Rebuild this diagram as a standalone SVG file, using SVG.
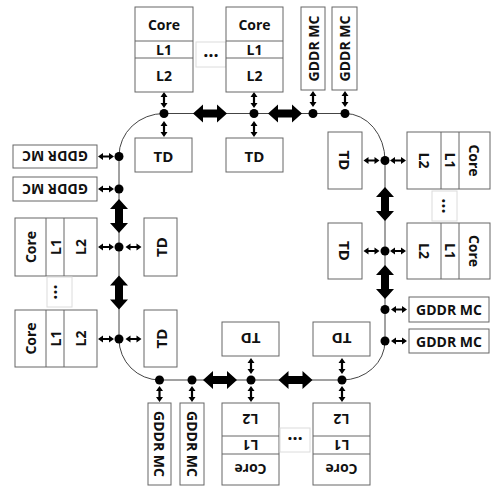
<svg xmlns="http://www.w3.org/2000/svg" xmlns:xlink="http://www.w3.org/1999/xlink" width="491" height="487" viewBox="0 0 491 487">
<style>
.b{fill:#fff;stroke:#666;stroke-width:1}
.e{fill:#fff;stroke:#dcdcdc;stroke-width:1}
.d{stroke:#666;stroke-width:1}
.t{font-family:"Open Sans","Liberation Sans",sans-serif;font-weight:bold;font-size:14px;fill:#111;text-anchor:middle;dominant-baseline:central}
.td{font-size:15px}
.x{font-family:"Open Sans","Liberation Sans",sans-serif;font-weight:bold;font-size:18px;fill:#111;text-anchor:middle}
.ring{fill:none;stroke:#444;stroke-width:1}
</style>
<defs>
<path id="sa" d="M-8,0 L-3,-3.5 L-3,-1.1 L3,-1.1 L3,-3.5 L8,0 L3,3.5 L3,1.1 L-3,1.1 L-3,3.5 Z" fill="#000"/>
<path id="fa" d="M-17,0 L-7,-9 L-7,-4 L7,-4 L7,-9 L17,0 L7,9 L7,4 L-7,4 L-7,9 Z" fill="#000"/>
</defs>
<rect width="491" height="487" fill="#fff"/>

<g id="connectors">
<path class="ring" d="M164,113.5 H345 A40,47 0 0 1 385,160.5 V341 A43,39 0 0 1 342,380 H160 A41,41 0 0 1 119,339 V156 A45,42.5 0 0 1 164,113.5 Z"/>
<g fill="#000">
<circle cx="164" cy="113.5" r="4.5"/><circle cx="254" cy="113.5" r="4.5"/><circle cx="313" cy="113.5" r="4.5"/><circle cx="345" cy="113.5" r="4.5"/>
<circle cx="385" cy="160.5" r="4.5"/><circle cx="385" cy="251" r="4.5"/><circle cx="385" cy="309.5" r="4.5"/><circle cx="385" cy="341" r="4.5"/>
<circle cx="159.5" cy="380" r="4.5"/><circle cx="192" cy="380" r="4.5"/><circle cx="251" cy="380" r="4.5"/><circle cx="342" cy="380" r="4.5"/>
<circle cx="119" cy="156.5" r="4.5"/><circle cx="119" cy="189" r="4.5"/><circle cx="119" cy="247" r="4.5"/><circle cx="119" cy="339" r="4.5"/>
</g>
<use xlink:href="#sa" transform="translate(164,100) rotate(90)"/>
<use xlink:href="#sa" transform="translate(164,129) rotate(90)"/>
<use xlink:href="#sa" transform="translate(254,100) rotate(90)"/>
<use xlink:href="#sa" transform="translate(254,129) rotate(90)"/>
<use xlink:href="#sa" transform="translate(313,99) rotate(90)"/>
<use xlink:href="#sa" transform="translate(345,99) rotate(90)"/>
<use xlink:href="#sa" transform="translate(371.5,160.5)"/>
<use xlink:href="#sa" transform="translate(398,160.5)"/>
<use xlink:href="#sa" transform="translate(371.5,251)"/>
<use xlink:href="#sa" transform="translate(398,251)"/>
<use xlink:href="#sa" transform="translate(399,309.5)"/>
<use xlink:href="#sa" transform="translate(399,341)"/>
<use xlink:href="#sa" transform="translate(251,366) rotate(90)"/>
<use xlink:href="#sa" transform="translate(251,394) rotate(90)"/>
<use xlink:href="#sa" transform="translate(342,366) rotate(90)"/>
<use xlink:href="#sa" transform="translate(342,394) rotate(90)"/>
<use xlink:href="#sa" transform="translate(159.5,394) rotate(90)"/>
<use xlink:href="#sa" transform="translate(192,394) rotate(90)"/>
<use xlink:href="#sa" transform="translate(106,156.5)"/>
<use xlink:href="#sa" transform="translate(106,189)"/>
<use xlink:href="#sa" transform="translate(106,247)"/>
<use xlink:href="#sa" transform="translate(133.5,247)"/>
<use xlink:href="#sa" transform="translate(106,339)"/>
<use xlink:href="#sa" transform="translate(133.5,339)"/>
<use xlink:href="#fa" transform="translate(210,113.5)"/>
<use xlink:href="#fa" transform="translate(285,113.5)"/>
<use xlink:href="#fa" transform="translate(385,204) rotate(90)"/>
<use xlink:href="#fa" transform="translate(385,282) rotate(90)"/>
<use xlink:href="#fa" transform="translate(220,380)"/>
<use xlink:href="#fa" transform="translate(295.5,380)"/>
<use xlink:href="#fa" transform="translate(119,216) rotate(90)"/>
<use xlink:href="#fa" transform="translate(119,292.5) rotate(90)"/>
</g>

<!-- TOP -->
<g id="core-top-1">
<rect class="b" x="135" y="7" width="58" height="85"/>
<line class="d" x1="135" y1="41" x2="193" y2="41"/><line class="d" x1="135" y1="58" x2="193" y2="58"/>
<text class="t" x="164" y="24.5">Core</text><text class="t" x="164" y="49.5">L1</text><text class="t" x="164" y="75">L2</text>
</g>
<g id="ellipsis-top">
<rect class="e" x="196" y="42" width="30" height="25"/>
<text class="x" x="211" y="57">…</text>
</g>
<g id="core-top-2">
<rect class="b" x="226" y="7" width="57" height="85"/>
<line class="d" x1="226" y1="41" x2="283" y2="41"/><line class="d" x1="226" y1="58" x2="283" y2="58"/>
<text class="t" x="254.5" y="24.5">Core</text><text class="t" x="254.5" y="49.5">L1</text><text class="t" x="254.5" y="75">L2</text>
</g>
<g id="gddr-top-1">
<rect class="b" x="301" y="7" width="24" height="83"/>
<text class="t" transform="translate(313,48.5) rotate(-90)">GDDR MC</text>
</g>
<g id="gddr-top-2">
<rect class="b" x="332" y="7" width="25" height="83"/>
<text class="t" transform="translate(344.5,48.5) rotate(-90)">GDDR MC</text>
</g>
<g id="td-top-1">
<rect class="b" x="135" y="138" width="57" height="34"/>
<text class="t td" x="163.5" y="155.5">TD</text>
</g>
<g id="td-top-2">
<rect class="b" x="226" y="138" width="57" height="34"/>
<text class="t td" x="254.5" y="155.5">TD</text>
</g>

<!-- RIGHT -->
<g id="td-right-1">
<rect class="b" x="328" y="132" width="34" height="57"/>
<text class="t td" transform="translate(344.5,160.5) rotate(90)">TD</text>
</g>
<g id="td-right-2">
<rect class="b" x="328" y="223" width="34" height="56"/>
<text class="t td" transform="translate(344.5,251) rotate(90)">TD</text>
</g>
<g id="core-right-1">
<rect class="b" x="407" y="132" width="83" height="57"/>
<line class="d" x1="441" y1="132" x2="441" y2="189"/><line class="d" x1="459" y1="132" x2="459" y2="189"/>
<text class="t" transform="translate(424,160.5) rotate(90)">L2</text>
<text class="t" transform="translate(450,160.5) rotate(90)">L1</text>
<text class="t" transform="translate(474.5,160.5) rotate(90)">Core</text>
</g>
<g id="ellipsis-right">
<rect class="e" x="432" y="191" width="25" height="30"/>
<text class="x" transform="translate(442,206) rotate(90)">…</text>
</g>
<g id="core-right-2">
<rect class="b" x="407" y="223" width="83" height="56"/>
<line class="d" x1="441" y1="223" x2="441" y2="279"/><line class="d" x1="459" y1="223" x2="459" y2="279"/>
<text class="t" transform="translate(424,251) rotate(90)">L2</text>
<text class="t" transform="translate(450,251) rotate(90)">L1</text>
<text class="t" transform="translate(474.5,251) rotate(90)">Core</text>
</g>
<g id="gddr-right-1">
<rect class="b" x="409" y="297" width="80" height="25"/>
<text class="t" x="449" y="309.5">GDDR MC</text>
</g>
<g id="gddr-right-2">
<rect class="b" x="409" y="329" width="80" height="24"/>
<text class="t" x="449" y="341">GDDR MC</text>
</g>

<!-- BOTTOM -->
<g id="td-bottom-1">
<rect class="b" x="222" y="322" width="57" height="34"/>
<text class="t td" transform="translate(250.5,338.5) rotate(180)">TD</text>
</g>
<g id="td-bottom-2">
<rect class="b" x="313" y="322" width="57" height="34"/>
<text class="t td" transform="translate(341.5,338.5) rotate(180)">TD</text>
</g>
<g id="core-bottom-1">
<rect class="b" x="222" y="403" width="57" height="82"/>
<line class="d" x1="222" y1="436" x2="279" y2="436"/><line class="d" x1="222" y1="454" x2="279" y2="454"/>
<text class="t" transform="translate(250.5,419.5) rotate(180)">L2</text>
<text class="t" transform="translate(250.5,445) rotate(180)">L1</text>
<text class="t" transform="translate(250.5,469.5) rotate(180)">Core</text>
</g>
<g id="ellipsis-bottom">
<rect class="e" x="280" y="428" width="30" height="24"/>
<text class="x" transform="translate(295,437) rotate(180)">…</text>
</g>
<g id="core-bottom-2">
<rect class="b" x="313" y="403" width="57" height="82"/>
<line class="d" x1="313" y1="436" x2="370" y2="436"/><line class="d" x1="313" y1="454" x2="370" y2="454"/>
<text class="t" transform="translate(341.5,419.5) rotate(180)">L2</text>
<text class="t" transform="translate(341.5,445) rotate(180)">L1</text>
<text class="t" transform="translate(341.5,469.5) rotate(180)">Core</text>
</g>
<g id="gddr-bottom-1">
<rect class="b" x="148" y="403" width="23" height="82"/>
<text class="t" transform="translate(159.5,444) rotate(90)">GDDR MC</text>
</g>
<g id="gddr-bottom-2">
<rect class="b" x="180" y="403" width="24" height="82"/>
<text class="t" transform="translate(192,444) rotate(90)">GDDR MC</text>
</g>

<!-- LEFT -->
<g id="gddr-left-1">
<rect class="b" x="13" y="145" width="84" height="23"/>
<text class="t" transform="translate(55,156.5) rotate(180)">GDDR MC</text>
</g>
<g id="gddr-left-2">
<rect class="b" x="13" y="177" width="84" height="24"/>
<text class="t" transform="translate(55,189) rotate(180)">GDDR MC</text>
</g>
<g id="core-left-1">
<rect class="b" x="15" y="218" width="82" height="58"/>
<line class="d" x1="46" y1="218" x2="46" y2="276"/><line class="d" x1="64" y1="218" x2="64" y2="276"/>
<text class="t" transform="translate(30.5,247) rotate(-90)">Core</text>
<text class="t" transform="translate(55,247) rotate(-90)">L1</text>
<text class="t" transform="translate(80.5,247) rotate(-90)">L2</text>
</g>
<g id="ellipsis-left">
<rect class="e" x="47" y="277" width="25" height="30"/>
<text class="x" transform="translate(57,292) rotate(-90)">…</text>
</g>
<g id="core-left-2">
<rect class="b" x="15" y="310" width="82" height="57"/>
<line class="d" x1="46" y1="310" x2="46" y2="367"/><line class="d" x1="64" y1="310" x2="64" y2="367"/>
<text class="t" transform="translate(30.5,338.5) rotate(-90)">Core</text>
<text class="t" transform="translate(55,338.5) rotate(-90)">L1</text>
<text class="t" transform="translate(80.5,338.5) rotate(-90)">L2</text>
</g>
<g id="td-left-1">
<rect class="b" x="144" y="218" width="33" height="58"/>
<text class="t td" transform="translate(161,247) rotate(-90)">TD</text>
</g>
<g id="td-left-2">
<rect class="b" x="144" y="310" width="33" height="57"/>
<text class="t td" transform="translate(161,338.5) rotate(-90)">TD</text>
</g>
</svg>
